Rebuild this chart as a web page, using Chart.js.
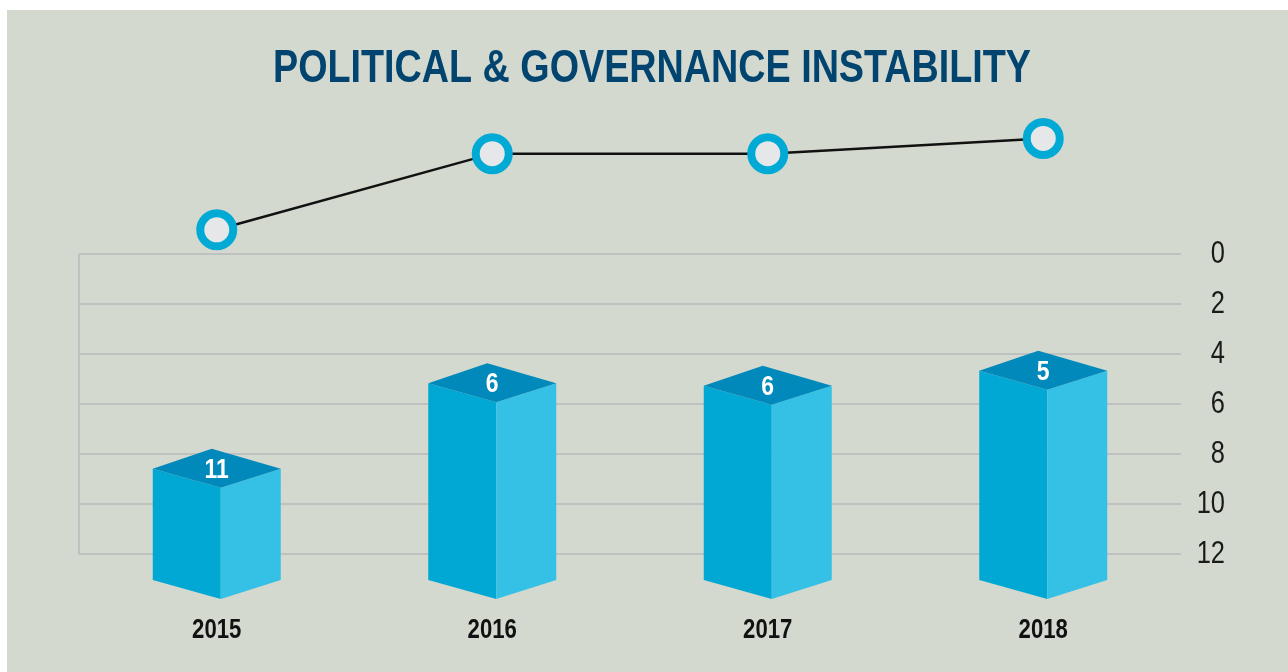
<!DOCTYPE html>
<html>
<head>
<meta charset="utf-8">
<script src="https://cdn.jsdelivr.net/npm/chart.js@4"></script>
<style>
  html, body { margin: 0; padding: 0; background: #ffffff; }
  #wrap { width: 1288px; height: 672px; }
</style>
</head>
<body>
<div id="wrap"><canvas id="c" width="1288" height="672"></canvas></div>
<script>
const categories = ['2015', '2016', '2017', '2018'];
const barTops = [8.59, 5.17, 5.27, 4.67];      // top edge of each box on the 0–12 axis
const barLabels = ['11', '6', '6', '5'];        // numbers printed on the box tops
const lineValues = [11, 6, 6, 5];              // line markers (rank) on hidden axis
const barBase = 13.04;

const FONT = "'Liberation Sans', Arial, sans-serif";
const NARROW = 0.82; // condensed look: horizontal squeeze of each text run

const panelPlugin = {
  id: 'panel',
  beforeDraw(chart) {
    const ctx = chart.ctx;
    ctx.save();
    ctx.fillStyle = '#ffffff';
    ctx.fillRect(0, 0, chart.width, chart.height);
    ctx.fillStyle = '#d3d9ce';
    ctx.fillRect(7, 10, chart.width - 7, chart.height - 10);
    ctx.restore();
    // condensed text: squeeze every text run around its own anchor
    const proto = Object.getPrototypeOf(ctx);
    const orig = proto.fillText;
    ctx.fillText = function (t, x, y, mw) {
      this.save();
      this.translate(x, y);
      this.scale(NARROW, 1);
      orig.call(this, t, 0, 0);
      this.restore();
    };
  },
  afterDraw(chart) {
    delete chart.ctx.fillText;
  }
};

const boxPlugin = {
  id: 'box3d',
  beforeDatasetDraw(chart, args) {
    if (args.meta.type === 'line') {
      this._area = chart.chartArea;
      chart.chartArea = Object.assign({}, this._area, { top: 0, bottom: chart.height });
      return;
    }
    if (args.meta.type !== 'bar') return;
    const ctx = chart.ctx;
    ctx.save();
    args.meta.data.forEach((el, i) => {
      const cx = el.x;
      const half = el.width / 2;
      const L = cx - half, R = cx + half;
      const yt = el.y, yb = el.base;
      const fx = cx + 4, ax = cx - 5;
      const dn = 19, up = 20;
      ctx.fillStyle = '#00a8d3';
      ctx.beginPath();
      ctx.moveTo(L, yt); ctx.lineTo(fx, yt + dn); ctx.lineTo(fx, yb + dn); ctx.lineTo(L, yb);
      ctx.closePath(); ctx.fill();
      ctx.fillStyle = '#35c1e5';
      ctx.beginPath();
      ctx.moveTo(fx, yt + dn); ctx.lineTo(R, yt); ctx.lineTo(R, yb); ctx.lineTo(fx, yb + dn);
      ctx.closePath(); ctx.fill();
      ctx.fillStyle = '#0089ba';
      ctx.beginPath();
      ctx.moveTo(L, yt); ctx.lineTo(ax, yt - up); ctx.lineTo(R, yt); ctx.lineTo(fx, yt + dn);
      ctx.closePath(); ctx.fill();
      ctx.fillStyle = '#ffffff';
      ctx.font = "bold 28px " + FONT;
      ctx.textAlign = 'center';
      ctx.textBaseline = 'middle';
      ctx.fillText(barLabels[i], cx, yt + 1);
    });
    ctx.restore();
    return false;
  },
  afterDatasetDraw(chart, args) {
    if (args.meta.type === 'line' && this._area) {
      chart.chartArea = this._area;
      this._area = null;
    }
  }
};

new Chart(document.getElementById('c'), {
  data: {
    labels: categories,
    datasets: [
      {
        type: 'line',
        data: lineValues,
        yAxisID: 'y2',
        borderColor: '#111111',
        borderWidth: 2.5,
        pointRadius: 16.5,
        pointHoverRadius: 16.5,
        pointBorderWidth: 8,
        pointBackgroundColor: '#e6e7e9',
        pointBorderColor: '#00aad5',
        tension: 0,
        clip: false,
        fill: false
      },
      {
        type: 'bar',
        data: barTops,
        yAxisID: 'y',
        base: barBase,
        barThickness: 128,
        backgroundColor: 'rgba(0,0,0,0)',
        clip: false
      }
    ]
  },
  options: {
    responsive: false,
    animation: false,
    events: [],
    layout: { padding: { left: 79, right: 63, top: 0, bottom: 26 } },
    plugins: {
      legend: { display: false },
      tooltip: { enabled: false },
      title: {
        display: true,
        text: 'POLITICAL & GOVERNANCE INSTABILITY',
        color: '#00446f',
        font: { family: FONT, size: 46, weight: 'bold', lineHeight: 1.2 },
        padding: { top: 42, bottom: 157 }
      }
    },
    scales: {
      x: {
        offset: true,
        border: { display: false },
        grid: {
          drawTicks: false,
          lineWidth: 2,
          color: (c) => c.index === 0 ? '#bfc0c0' : 'rgba(0,0,0,0)'
        },
        ticks: {
          color: '#111111',
          padding: 60,
          font: { family: FONT, size: 27, weight: 'bold', lineHeight: 1.2 }
        },
        afterFit(scale) { scale.height = 92; }
      },
      y: {
        position: 'right',
        reverse: true,
        min: 0,
        max: 12,
        border: { display: false },
        grid: { drawTicks: false, color: '#bfc0c0', lineWidth: 2 },
        ticks: {
          stepSize: 2,
          autoSkip: false,
          crossAlign: 'far',
          padding: 9.5,
          color: '#1a1a1a',
          font: { family: FONT, size: 31, lineHeight: 1.2 }
        },
        afterFit(scale) { scale.width = 44; }
      },
      y2: {
        display: false,
        reverse: true,
        min: 12.6,
        max: 32.28
      }
    }
  },
  plugins: [panelPlugin, boxPlugin]
});
</script>
</body>
</html>
